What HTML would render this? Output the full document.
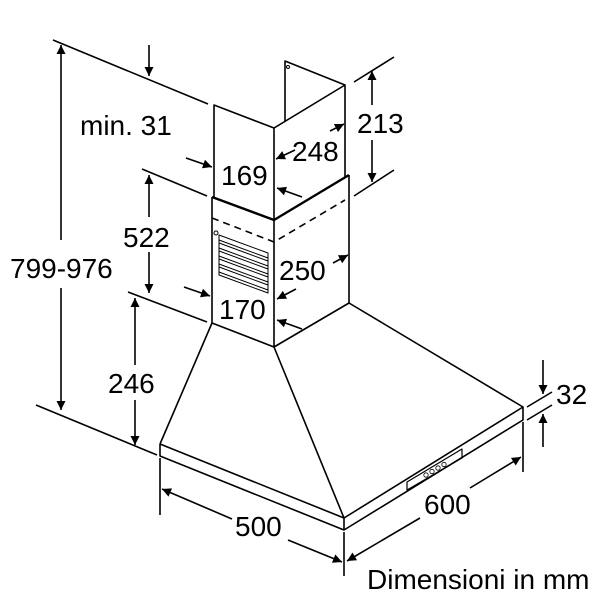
<!DOCTYPE html>
<html><head><style>html,body{margin:0;padding:0;background:#fff}svg{display:block}</style></head>
<body>
<svg width="600" height="600" viewBox="0 0 600 600" xmlns="http://www.w3.org/2000/svg">
<defs>
<marker id="a" viewBox="0 0 10 10" refX="10" refY="5" markerWidth="10" markerHeight="9" markerUnits="userSpaceOnUse" orient="auto"><path d="M0,0L10,5L0,10z" fill="#000"/></marker>
</defs>
<g stroke="#000" stroke-width="1.6" fill="none" stroke-linejoin="round">
<polyline points="214,197 214,105 274,128 274,220"/>
<polyline points="274,128 345,85 345,177"/>
<polyline points="285,122 285,61 345,85"/>
<circle cx="288" cy="67" r="1.5" stroke-width="1"/>
<polyline points="212,197 212,323 274,347 274,220"/>
<polyline points="274,347 349,303 349,175"/>
<polyline points="212,197 274,220 349,175" stroke-width="2.4"/>
<polyline points="212,218 274,242 345,200" stroke-dasharray="7,5"/>
<circle cx="216" cy="233" r="2" stroke-width="1"/>
<g stroke-width="1">
<polygon points="219,235 268,253 268,293 219,275"/>
<path d="M219,240L268,258M219,243L268,261M219,248L268,266M219,251L268,269M219,256L268,274M219,259L268,277M219,264L268,282M219,267L268,285M219,272L268,290"/>
</g>
<polyline points="212,323 160,444"/>
<polyline points="274,347 344,518"/>
<polyline points="349,303 523,407"/>
<polyline points="160,444 344,518 523,407 523,420 344,530 160,456 160,444"/>
<line x1="344" y1="518" x2="344" y2="530"/>
<polygon points="407,482 462,449 462,458 407,490" stroke-width="1.2"/>
<g stroke-width="0.8"><circle cx="426" cy="475" r="2.2"/><circle cx="432" cy="471.5" r="2.2"/><circle cx="438" cy="468" r="2.2"/><circle cx="444" cy="464.5" r="2.2"/></g>
<line x1="53" y1="40" x2="208" y2="104"/>
<line x1="36" y1="405" x2="157" y2="455"/>
<line x1="61" y1="240" x2="61" y2="45" marker-end="url(#a)"/>
<line x1="61" y1="288" x2="61" y2="410" marker-end="url(#a)"/>
<line x1="149" y1="45" x2="149" y2="76" marker-end="url(#a)"/>
<line x1="142" y1="169" x2="207" y2="196"/>
<line x1="128" y1="292" x2="207" y2="322"/>
<line x1="149" y1="217" x2="149" y2="175" marker-end="url(#a)"/>
<line x1="149" y1="252" x2="149" y2="293" marker-end="url(#a)"/>
<line x1="135" y1="365" x2="135" y2="298" marker-end="url(#a)"/>
<line x1="135" y1="400" x2="135" y2="445" marker-end="url(#a)"/>
<line x1="354" y1="82" x2="394" y2="57"/>
<line x1="354" y1="196" x2="394" y2="170"/>
<line x1="372" y1="105" x2="372" y2="71" marker-end="url(#a)"/>
<line x1="372" y1="140" x2="372" y2="182" marker-end="url(#a)"/>
<line x1="186" y1="158" x2="212" y2="167" marker-end="url(#a)"/>
<line x1="295" y1="150" x2="276" y2="159" marker-end="url(#a)"/>
<line x1="330" y1="131" x2="344" y2="124" marker-end="url(#a)"/>
<line x1="302" y1="197" x2="277" y2="188" marker-end="url(#a)"/>
<line x1="184" y1="287" x2="210" y2="296" marker-end="url(#a)"/>
<line x1="296" y1="289" x2="277" y2="299" marker-end="url(#a)"/>
<line x1="333" y1="263" x2="348" y2="255" marker-end="url(#a)"/>
<line x1="302" y1="329" x2="277" y2="320" marker-end="url(#a)"/>
<line x1="160" y1="458" x2="160" y2="515"/>
<line x1="344" y1="532" x2="344" y2="576"/>
<line x1="523" y1="422" x2="523" y2="472"/>
<line x1="232" y1="519" x2="162" y2="489" marker-end="url(#a)"/>
<line x1="288" y1="540" x2="342" y2="562" marker-end="url(#a)"/>
<line x1="420" y1="518" x2="347" y2="561" marker-end="url(#a)"/>
<line x1="470" y1="488" x2="521" y2="457" marker-end="url(#a)"/>
<line x1="527" y1="407" x2="552" y2="392"/>
<line x1="527" y1="420" x2="552" y2="405"/>
<line x1="543" y1="360" x2="543" y2="394" marker-end="url(#a)"/>
<line x1="543" y1="447" x2="543" y2="414" marker-end="url(#a)"/>
</g>
<rect x="356" y="106" width="50" height="33" fill="#fff"/>
<g font-family="Liberation Sans, sans-serif" font-size="28" fill="#000">
<text x="10" y="278">799-976</text>
<text x="80" y="135">min. 31</text>
<text x="123" y="247">522</text>
<text x="108" y="393">246</text>
<text x="221" y="185">169</text>
<text x="292" y="161">248</text>
<text x="357" y="133">213</text>
<text x="279" y="280">250</text>
<text x="219" y="319">170</text>
<text x="235" y="536">500</text>
<text x="424" y="514">600</text>
<text x="556" y="404">32</text>
<text x="367" y="589" font-size="28">Dimensioni in mm</text>
</g>
</svg>
</body></html>
